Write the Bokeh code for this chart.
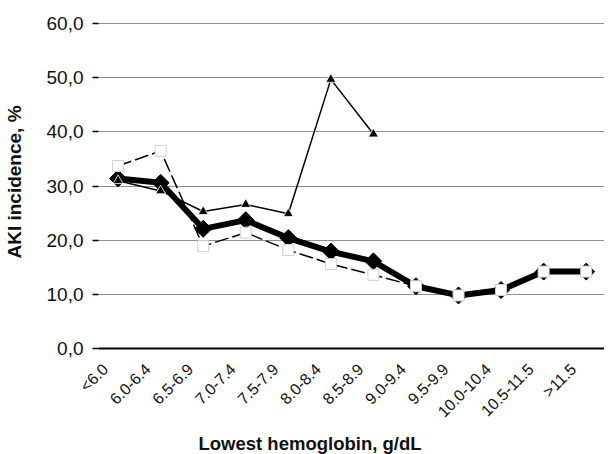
import numpy as np
from bokeh.plotting import figure
from bokeh.models import Range1d, FixedTicker, Title
from bokeh.embed import file_html
from bokeh.resources import INLINE

categories = ["<6.0", "6.0-6.4", "6.5-6.9", "7.0-7.4", "7.5-7.9", "8.0-8.4",
              "8.5-8.9", "9.0-9.4", "9.5-9.9", "10.0-10.4", "10.5-11.5", ">11.5"]
all_patients = [31.4, 30.6, 22.1, 23.7, 20.4, 17.9, 16.1, 11.5, 9.8, 10.8, 14.2, 14.2]
triangle_series = [31.0, 29.1, 25.3, 26.6, 24.9, 49.7, 39.6]
square_series = [33.7, 36.5, 18.9, 21.4, 18.2, 15.6, 13.6, 11.5, 9.8, 10.8, 14.2, 14.2]
y_ticks = [0, 10, 20, 30, 40, 50, 60]

FONT = "Liberation Sans"

x_all = list(range(len(categories)))
x_tri = x_all[:len(triangle_series)]

p = figure(width=604, height=454, output_backend="svg", toolbar_location=None,
           x_range=Range1d(-0.46, 11.43), y_range=Range1d(0, 61.5),
           min_border_left=89, min_border_right=0, min_border_top=15,
           min_border_bottom=104)
p.outline_line_color = None
p.background_fill_color = "white"
p.border_fill_color = "white"

# grid
p.xgrid.visible = False
p.ygrid.ticker = FixedTicker(ticks=y_ticks)
p.ygrid.grid_line_color = "#222222"
p.ygrid.grid_line_dash = "1 1"
p.ygrid.grid_line_width = 1

# y axis
p.yaxis.ticker = FixedTicker(ticks=y_ticks)
p.yaxis.major_label_overrides = {v: f"{v:.1f}".replace(".", ",") for v in y_ticks}
p.yaxis.axis_line_color = None
p.yaxis.major_tick_out = 6
p.yaxis.major_tick_in = 0
p.yaxis.major_tick_line_width = 1.5
p.yaxis.major_tick_line_color = "black"
p.yaxis.minor_tick_line_color = None
p.yaxis.major_label_standoff = 9
p.yaxis.major_label_text_font = FONT
p.yaxis.major_label_text_font_size = "19px"
p.yaxis.major_label_text_color = "#111111"
p.yaxis.axis_label = "AKI incidence, %"
p.yaxis.axis_label_text_font = FONT
p.yaxis.axis_label_text_font_style = "bold"
p.yaxis.axis_label_text_font_size = "19px"
p.yaxis.axis_label_text_color = "#111111"
p.yaxis.axis_label_standoff = 19

# x axis
shift = 0.3
x_tick_pos = [i - shift for i in x_all]
p.xaxis.ticker = FixedTicker(ticks=x_tick_pos)
p.xaxis.major_label_overrides = {t: c for t, c in zip(x_tick_pos, categories)}
p.xaxis.major_label_orientation = np.pi / 4
p.xaxis.major_tick_out = 0
p.xaxis.major_tick_in = 0
p.xaxis.minor_tick_line_color = None
p.xaxis.axis_line_color = "black"
p.xaxis.axis_line_width = 2
p.xaxis.major_label_standoff = 18
p.xaxis.major_label_text_font = FONT
p.xaxis.major_label_text_font_size = "16px"
p.xaxis.major_label_text_color = "#111111"

# series: all patients (thick, diamonds)
p.line(x_all, all_patients, line_color="black", line_width=6)
p.scatter(x_all, all_patients, marker="square", angle=np.pi / 4, size=12,
          fill_color="black", line_color="black", line_width=1)

# triangle series
p.line(x_tri, triangle_series, line_color="black", line_width=1.5)
p.scatter(x_tri, triangle_series, marker="triangle", size=10,
          fill_color="black", line_color="white", line_width=0.8)

# square series (dashed)
p.line(x_all, square_series, line_color="black", line_width=1.5, line_dash="14 4")
p.scatter(x_all, square_series, marker="square", size=11,
          fill_color="white", line_color="#d0d0d0", line_width=1)

# x axis title
p.add_layout(Title(text="Lowest hemoglobin, g/dL", align="left", offset=100,
                   text_font=FONT, text_font_style="bold", text_font_size="18.5px",
                   text_color="#111111", standoff=2, text_line_height=0.75), "below")

open("out.html", "w").write(file_html(p, INLINE))
